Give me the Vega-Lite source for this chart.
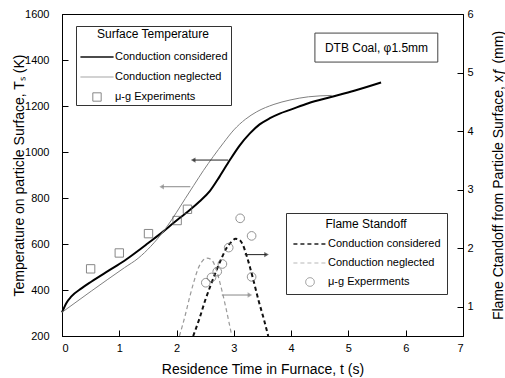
{
  "$schema": "https://vega.github.io/schema/vega-lite/v6.json",
  "width": 401,
  "height": 322,
  "autosize": {"type": "none"},
  "padding": {"left": 62, "top": 14, "right": 42, "bottom": 42},
  "background": "white",
  "config": {
    "font": "Liberation Sans",
    "view": {"stroke": "black", "strokeWidth": 1},
    "axis": {"grid": false, "domainColor": "black", "tickColor": "black", "labelColor": "black", "titleColor": "black", "labelFontSize": 11, "titleFontSize": 14, "titleFontWeight": "normal", "domainWidth": 1, "tickWidth": 1, "labelOverlap": false}
  },
  "datasets": {
    "tcurve": [
      {"t": 0, "T": 303, "s": "Conduction considered"},
      {"t": 0.08, "T": 345, "s": "Conduction considered"},
      {"t": 0.16, "T": 371, "s": "Conduction considered"},
      {"t": 0.34, "T": 407, "s": "Conduction considered"},
      {"t": 0.51, "T": 436, "s": "Conduction considered"},
      {"t": 0.8, "T": 482, "s": "Conduction considered"},
      {"t": 1.09, "T": 527, "s": "Conduction considered"},
      {"t": 1.3, "T": 565, "s": "Conduction considered"},
      {"t": 1.5, "T": 603, "s": "Conduction considered"},
      {"t": 1.77, "T": 655, "s": "Conduction considered"},
      {"t": 1.94, "T": 690, "s": "Conduction considered"},
      {"t": 2.1, "T": 722, "s": "Conduction considered"},
      {"t": 2.23, "T": 748, "s": "Conduction considered"},
      {"t": 2.4, "T": 785, "s": "Conduction considered"},
      {"t": 2.58, "T": 830, "s": "Conduction considered"},
      {"t": 2.75, "T": 893, "s": "Conduction considered"},
      {"t": 2.93, "T": 965, "s": "Conduction considered"},
      {"t": 3.1, "T": 1028, "s": "Conduction considered"},
      {"t": 3.28, "T": 1081, "s": "Conduction considered"},
      {"t": 3.45, "T": 1120, "s": "Conduction considered"},
      {"t": 3.63, "T": 1147, "s": "Conduction considered"},
      {"t": 3.8, "T": 1167, "s": "Conduction considered"},
      {"t": 3.98, "T": 1183, "s": "Conduction considered"},
      {"t": 4.3, "T": 1212, "s": "Conduction considered"},
      {"t": 4.68, "T": 1238, "s": "Conduction considered"},
      {"t": 5.1, "T": 1266, "s": "Conduction considered"},
      {"t": 5.57, "T": 1302, "s": "Conduction considered"},
      {"t": 0, "T": 303, "s": "Conduction neglected"},
      {"t": 0.51, "T": 395, "s": "Conduction neglected"},
      {"t": 1.09, "T": 497, "s": "Conduction neglected"},
      {"t": 1.33, "T": 538, "s": "Conduction neglected"},
      {"t": 1.55, "T": 590, "s": "Conduction neglected"},
      {"t": 1.78, "T": 658, "s": "Conduction neglected"},
      {"t": 1.9, "T": 700, "s": "Conduction neglected"},
      {"t": 2.0, "T": 738, "s": "Conduction neglected"},
      {"t": 2.15, "T": 797, "s": "Conduction neglected"},
      {"t": 2.3, "T": 855, "s": "Conduction neglected"},
      {"t": 2.47, "T": 920, "s": "Conduction neglected"},
      {"t": 2.64, "T": 980, "s": "Conduction neglected"},
      {"t": 2.82, "T": 1040, "s": "Conduction neglected"},
      {"t": 3.0, "T": 1096, "s": "Conduction neglected"},
      {"t": 3.2, "T": 1142, "s": "Conduction neglected"},
      {"t": 3.4, "T": 1175, "s": "Conduction neglected"},
      {"t": 3.7, "T": 1207, "s": "Conduction neglected"},
      {"t": 3.98, "T": 1226, "s": "Conduction neglected"},
      {"t": 4.3, "T": 1240, "s": "Conduction neglected"},
      {"t": 4.71, "T": 1246, "s": "Conduction neglected"}
    ],
    "texp": [
      {"t": 0.5, "T": 492, "s": "μ-g Experiments"},
      {"t": 1.0, "T": 561, "s": "μ-g Experiments"},
      {"t": 1.51, "T": 645, "s": "μ-g Experiments"},
      {"t": 2.01, "T": 702, "s": "μ-g Experiments"},
      {"t": 2.19, "T": 751, "s": "μ-g Experiments"}
    ],
    "tarrow": [
      {"t": 2.9, "t2": 2.29, "T": 965, "s": "Conduction considered"},
      {"t": 2.24, "t2": 1.74, "T": 849, "s": "Conduction neglected"}
    ],
    "note": [
      {"x1": 4.415, "x2": 6.56, "T1": 1391, "T2": 1517, "xc": 5.49, "Tc": 1454, "label": "DTB Coal, φ1.5mm"}
    ],
    "fcurve": [
      {"t": 2.29, "xf": 0.5, "s": "Conduction considered"},
      {"t": 2.4, "xf": 0.8, "s": "Conduction considered"},
      {"t": 2.5, "xf": 1.11, "s": "Conduction considered"},
      {"t": 2.6, "xf": 1.38, "s": "Conduction considered"},
      {"t": 2.7, "xf": 1.63, "s": "Conduction considered"},
      {"t": 2.8, "xf": 1.86, "s": "Conduction considered"},
      {"t": 2.87, "xf": 2.0, "s": "Conduction considered"},
      {"t": 2.95, "xf": 2.1, "s": "Conduction considered"},
      {"t": 3.03, "xf": 2.16, "s": "Conduction considered"},
      {"t": 3.1, "xf": 2.14, "s": "Conduction considered"},
      {"t": 3.16, "xf": 2.05, "s": "Conduction considered"},
      {"t": 3.22, "xf": 1.88, "s": "Conduction considered"},
      {"t": 3.28, "xf": 1.68, "s": "Conduction considered"},
      {"t": 3.35, "xf": 1.42, "s": "Conduction considered"},
      {"t": 3.43, "xf": 1.11, "s": "Conduction considered"},
      {"t": 3.52, "xf": 0.8, "s": "Conduction considered"},
      {"t": 3.6, "xf": 0.5, "s": "Conduction considered"},
      {"t": 2.05, "xf": 0.5, "s": "Conduction neglected"},
      {"t": 2.15, "xf": 0.85, "s": "Conduction neglected"},
      {"t": 2.23, "xf": 1.17, "s": "Conduction neglected"},
      {"t": 2.3, "xf": 1.42, "s": "Conduction neglected"},
      {"t": 2.38, "xf": 1.66, "s": "Conduction neglected"},
      {"t": 2.45, "xf": 1.78, "s": "Conduction neglected"},
      {"t": 2.53, "xf": 1.83, "s": "Conduction neglected"},
      {"t": 2.6, "xf": 1.81, "s": "Conduction neglected"},
      {"t": 2.67, "xf": 1.7, "s": "Conduction neglected"},
      {"t": 2.76, "xf": 1.4, "s": "Conduction neglected"},
      {"t": 2.87, "xf": 0.94, "s": "Conduction neglected"},
      {"t": 2.96, "xf": 0.52, "s": "Conduction neglected"}
    ],
    "fexp": [
      {"t": 2.51, "xf": 1.41, "s": "μ-g Experrments"},
      {"t": 2.61, "xf": 1.5, "s": "μ-g Experrments"},
      {"t": 2.71, "xf": 1.6, "s": "μ-g Experrments"},
      {"t": 2.8, "xf": 1.73, "s": "μ-g Experrments"},
      {"t": 2.91, "xf": 2.01, "s": "μ-g Experrments"},
      {"t": 3.11, "xf": 2.51, "s": "μ-g Experrments"},
      {"t": 3.31, "xf": 2.21, "s": "μ-g Experrments"},
      {"t": 3.31, "xf": 1.51, "s": "μ-g Experrments"}
    ],
    "farrow": [
      {"t": 3.19, "t2": 3.57, "xf": 1.89, "s": "Conduction considered"},
      {"t": 2.79, "t2": 3.28, "xf": 1.2, "s": "Conduction neglected"}
    ]
  },
  "layer": [
    {
      "layer": [
        {
          "data": {"name": "tcurve"},
          "mark": {"type": "line", "interpolate": "monotone"},
          "encoding": {
            "x": {"field": "t", "type": "quantitative", "scale": {"domain": [0, 7], "nice": false, "zero": false},
              "axis": {"title": "Residence Time in Furnace, t (s)", "values": [0, 0.5, 1, 1.5, 2, 2.5, 3, 3.5, 4, 4.5, 5, 5.5, 6, 6.5, 7], "format": "d", "labelOverlap": false, "labelExpr": "datum.value % 1 === 0 ? datum.label : ''", "tickSize": {"condition": {"test": "datum.value % 1 === 0", "value": -6}, "value": -4}, "labelPadding": 12, "titlePadding": 9}},
            "y": {"field": "T", "type": "quantitative", "scale": {"domain": [200, 1600], "nice": false, "zero": false},
              "axis": {"orient": "left", "title": "Temperature on particle Surface, Tₛ (K)", "values": [200, 300, 400, 500, 600, 700, 800, 900, 1000, 1100, 1200, 1300, 1400, 1500, 1600], "format": "d", "labelOverlap": false, "labelExpr": "datum.value % 200 === 0 ? datum.label : ''", "tickSize": {"condition": {"test": "datum.value % 200 === 0", "value": -6}, "value": -4}, "labelPadding": 19, "titlePadding": -2}},
            "color": {"field": "s", "type": "nominal", "scale": {"domain": ["Conduction considered", "Conduction neglected", "μ-g Experiments"], "range": ["#000000", "#808080", "#555555"]},
              "legend": {"title": "Surface Temperature", "orient": "none", "legendX": 14, "legendY": 12, "strokeColor": "#333333", "padding": 3, "titleFontSize": 12, "titleFontWeight": "normal", "titleColor": "black", "titleAnchor": "middle", "titlePadding": 11, "labelFontSize": 11, "labelColor": "black", "labelOffset": 0, "clipHeight": 10, "rowPadding": 9}},
            "strokeWidth": {"field": "s", "type": "nominal", "scale": {"type": "ordinal", "domain": ["Conduction considered", "Conduction neglected", "μ-g Experiments"], "range": [2, 1, 1]},
              "legend": {"title": "Surface Temperature", "orient": "none", "legendX": 14, "legendY": 12, "strokeColor": "#333333", "padding": 3, "titleFontSize": 12, "titleFontWeight": "normal", "titleColor": "black", "titleAnchor": "middle", "titlePadding": 11, "labelFontSize": 11, "labelColor": "black", "labelOffset": 0, "clipHeight": 10, "rowPadding": 9}}
          }
        },
        {
          "data": {"name": "texp"},
          "mark": {"type": "point", "filled": false, "strokeWidth": 1},
          "encoding": {
            "x": {"field": "t", "type": "quantitative", "scale": {"domain": [0, 7], "nice": false, "zero": false}},
            "y": {"field": "T", "type": "quantitative"},
            "color": {"field": "s", "type": "nominal", "scale": {"domain": ["Conduction considered", "Conduction neglected", "μ-g Experiments"], "range": ["#000000", "#808080", "#555555"]},
              "legend": {"title": "Surface Temperature", "orient": "none", "legendX": 14, "legendY": 12, "strokeColor": "#333333", "padding": 3, "titleFontSize": 12, "titleFontWeight": "normal", "titleColor": "black", "titleAnchor": "middle", "titlePadding": 11, "labelFontSize": 11, "labelColor": "black", "labelOffset": 0, "clipHeight": 10, "rowPadding": 9}},
            "shape": {"field": "s", "type": "nominal", "scale": {"domain": ["Conduction considered", "Conduction neglected", "μ-g Experiments"], "range": ["stroke", "stroke", "square"]},
              "legend": {"title": "Surface Temperature", "orient": "none", "legendX": 14, "legendY": 12, "strokeColor": "#333333", "padding": 3, "titleFontSize": 12, "titleFontWeight": "normal", "titleColor": "black", "titleAnchor": "middle", "titlePadding": 11, "labelFontSize": 11, "labelColor": "black", "labelOffset": 0, "clipHeight": 10, "rowPadding": 9}},
            "size": {"field": "s", "type": "nominal", "scale": {"type": "ordinal", "domain": ["Conduction considered", "Conduction neglected", "μ-g Experiments"], "range": [1100, 1100, 70]},
              "legend": {"title": "Surface Temperature", "orient": "none", "legendX": 14, "legendY": 12, "strokeColor": "#333333", "padding": 3, "titleFontSize": 12, "titleFontWeight": "normal", "titleColor": "black", "titleAnchor": "middle", "titlePadding": 11, "labelFontSize": 11, "labelColor": "black", "labelOffset": 0, "clipHeight": 10, "rowPadding": 9}}
          }
        },
        {
          "data": {"name": "tarrow"},
          "mark": {"type": "rule", "strokeWidth": 1},
          "encoding": {
            "x": {"field": "t", "type": "quantitative", "scale": {"domain": [0, 7], "nice": false, "zero": false}},
            "x2": {"field": "t2"},
            "y": {"field": "T", "type": "quantitative"},
            "stroke": {"field": "s", "type": "nominal", "scale": {"domain": ["Conduction considered", "Conduction neglected"], "range": ["#222222", "#888888"]}, "legend": null}
          }
        },
        {
          "data": {"name": "tarrow"},
          "mark": {"type": "point", "filled": true, "shape": "triangle-left", "size": 28, "strokeWidth": 0},
          "encoding": {
            "x": {"field": "t2", "type": "quantitative", "scale": {"domain": [0, 7], "nice": false, "zero": false}},
            "y": {"field": "T", "type": "quantitative"},
            "fill": {"field": "s", "type": "nominal", "scale": {"domain": ["Conduction considered", "Conduction neglected"], "range": ["#222222", "#888888"]}, "legend": null}
          }
        },
        {
          "data": {"name": "note"},
          "mark": {"type": "rect", "fill": "white", "stroke": "#444444", "strokeWidth": 1},
          "encoding": {
            "x": {"field": "x1", "type": "quantitative", "scale": {"domain": [0, 7], "nice": false, "zero": false}},
            "x2": {"field": "x2"},
            "y": {"field": "T1", "type": "quantitative"},
            "y2": {"field": "T2"}
          }
        },
        {
          "data": {"name": "note"},
          "mark": {"type": "text", "fontSize": 12, "color": "black", "align": "center", "baseline": "middle"},
          "encoding": {
            "x": {"field": "xc", "type": "quantitative", "scale": {"domain": [0, 7], "nice": false, "zero": false}},
            "y": {"field": "Tc", "type": "quantitative"},
            "text": {"field": "label"}
          }
        }
      ]
    },
    {
      "layer": [
        {
          "data": {"name": "fcurve"},
          "mark": {"type": "line", "interpolate": "monotone"},
          "encoding": {
            "x": {"field": "t", "type": "quantitative", "scale": {"domain": [0, 7], "nice": false, "zero": false}},
            "y": {"field": "xf", "type": "quantitative", "scale": {"domain": [0.5, 6], "nice": false, "zero": false},
              "axis": {"orient": "right", "title": "Flame Ctandoff from Particle Surface, xƒ (mm)", "titleAngle": 270, "titleBaseline": "top", "values": [1, 1.5, 2, 2.5, 3, 3.5, 4, 4.5, 5, 5.5, 6], "format": "d", "labelOverlap": false, "labelExpr": "datum.value % 1 === 0 ? datum.label : ''", "tickSize": {"condition": {"test": "datum.value % 1 === 0", "value": -6}, "value": -4}, "labelPadding": 10, "titlePadding": 18}},
            "color": {"field": "s", "type": "nominal", "scale": {"domain": ["Conduction considered", "Conduction neglected", "μ-g Experrments"], "range": ["#111111", "#999999", "#666666"]},
              "legend": {"title": "Flame Standoff", "orient": "none", "legendX": 224, "legendY": 199, "strokeColor": "#333333", "padding": 6, "titleFontSize": 12, "titleFontWeight": "normal", "titleColor": "black", "titleAnchor": "middle", "titlePadding": 7, "labelFontSize": 11, "labelColor": "black", "labelOffset": 0, "clipHeight": 12, "rowPadding": 7}},
            "strokeWidth": {"field": "s", "type": "nominal", "scale": {"type": "ordinal", "domain": ["Conduction considered", "Conduction neglected", "μ-g Experrments"], "range": [2, 1.2, 1]},
              "legend": {"title": "Flame Standoff", "orient": "none", "legendX": 224, "legendY": 199, "strokeColor": "#333333", "padding": 6, "titleFontSize": 12, "titleFontWeight": "normal", "titleColor": "black", "titleAnchor": "middle", "titlePadding": 7, "labelFontSize": 11, "labelColor": "black", "labelOffset": 0, "clipHeight": 12, "rowPadding": 7}},
            "strokeDash": {"field": "s", "type": "nominal", "scale": {"domain": ["Conduction considered", "Conduction neglected", "μ-g Experrments"], "range": [[4, 3], [4, 3], [1, 0]]},
              "legend": {"title": "Flame Standoff", "orient": "none", "legendX": 224, "legendY": 199, "strokeColor": "#333333", "padding": 6, "titleFontSize": 12, "titleFontWeight": "normal", "titleColor": "black", "titleAnchor": "middle", "titlePadding": 7, "labelFontSize": 11, "labelColor": "black", "labelOffset": 0, "clipHeight": 12, "rowPadding": 7}}
          }
        },
        {
          "data": {"name": "fexp"},
          "mark": {"type": "point", "filled": false, "strokeWidth": 1},
          "encoding": {
            "x": {"field": "t", "type": "quantitative", "scale": {"domain": [0, 7], "nice": false, "zero": false}},
            "y": {"field": "xf", "type": "quantitative"},
            "color": {"field": "s", "type": "nominal", "scale": {"domain": ["Conduction considered", "Conduction neglected", "μ-g Experrments"], "range": ["#111111", "#999999", "#666666"]},
              "legend": {"title": "Flame Standoff", "orient": "none", "legendX": 224, "legendY": 199, "strokeColor": "#333333", "padding": 6, "titleFontSize": 12, "titleFontWeight": "normal", "titleColor": "black", "titleAnchor": "middle", "titlePadding": 7, "labelFontSize": 11, "labelColor": "black", "labelOffset": 0, "clipHeight": 12, "rowPadding": 7}},
            "shape": {"field": "s", "type": "nominal", "scale": {"domain": ["Conduction considered", "Conduction neglected", "μ-g Experrments"], "range": ["stroke", "stroke", "circle"]},
              "legend": {"title": "Flame Standoff", "orient": "none", "legendX": 224, "legendY": 199, "strokeColor": "#333333", "padding": 6, "titleFontSize": 12, "titleFontWeight": "normal", "titleColor": "black", "titleAnchor": "middle", "titlePadding": 7, "labelFontSize": 11, "labelColor": "black", "labelOffset": 0, "clipHeight": 12, "rowPadding": 7}},
            "size": {"field": "s", "type": "nominal", "scale": {"type": "ordinal", "domain": ["Conduction considered", "Conduction neglected", "μ-g Experrments"], "range": [1100, 1100, 75]},
              "legend": {"title": "Flame Standoff", "orient": "none", "legendX": 224, "legendY": 199, "strokeColor": "#333333", "padding": 6, "titleFontSize": 12, "titleFontWeight": "normal", "titleColor": "black", "titleAnchor": "middle", "titlePadding": 7, "labelFontSize": 11, "labelColor": "black", "labelOffset": 0, "clipHeight": 12, "rowPadding": 7}}
          }
        },
        {
          "data": {"name": "farrow"},
          "mark": {"type": "rule", "strokeWidth": 1},
          "encoding": {
            "x": {"field": "t", "type": "quantitative", "scale": {"domain": [0, 7], "nice": false, "zero": false}},
            "x2": {"field": "t2"},
            "y": {"field": "xf", "type": "quantitative"},
            "stroke": {"field": "s", "type": "nominal", "scale": {"domain": ["Conduction considered", "Conduction neglected"], "range": ["#222222", "#888888"]}, "legend": null}
          }
        },
        {
          "data": {"name": "farrow"},
          "mark": {"type": "point", "filled": true, "shape": "triangle-right", "size": 28, "strokeWidth": 0},
          "encoding": {
            "x": {"field": "t2", "type": "quantitative", "scale": {"domain": [0, 7], "nice": false, "zero": false}},
            "y": {"field": "xf", "type": "quantitative"},
            "fill": {"field": "s", "type": "nominal", "scale": {"domain": ["Conduction considered", "Conduction neglected"], "range": ["#222222", "#888888"]}, "legend": null}
          }
        }
      ]
    }
  ],
  "resolve": {
    "scale": {"y": "independent", "color": "independent", "shape": "independent", "size": "independent", "strokeWidth": "independent", "strokeDash": "independent", "stroke": "independent", "fill": "independent"},
    "axis": {"y": "independent"},
    "legend": {"color": "independent", "shape": "independent", "size": "independent", "strokeWidth": "independent", "strokeDash": "independent"}
  }
}
